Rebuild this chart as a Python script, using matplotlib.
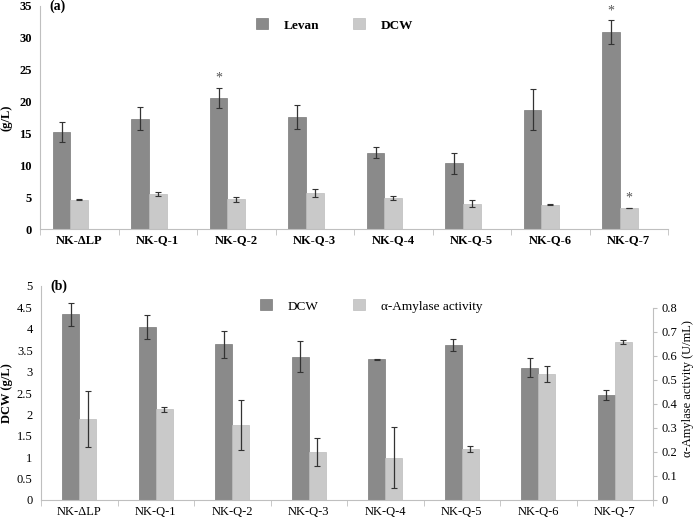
import matplotlib.pyplot as plt
import numpy as np
from matplotlib.ticker import FuncFormatter

plt.rcParams['font.family'] = ['Liberation Serif', 'DejaVu Serif']

# Strains (category labels)
strains = ['NK-\u0394LP', 'NK-Q-1', 'NK-Q-2', 'NK-Q-3',
           'NK-Q-4', 'NK-Q-5', 'NK-Q-6', 'NK-Q-7']

# Panel (a): levan and DCW (g/L)
levan = [15.2, 17.3, 20.6, 17.6, 12.0, 10.3, 18.7, 30.9]
levan_err = [1.6, 1.8, 1.6, 1.9, 0.9, 1.7, 3.2, 1.9]
dcw_a = [4.6, 5.55, 4.65, 5.7, 4.9, 4.0, 3.8, 3.3]
dcw_a_err = [0.1, 0.3, 0.4, 0.65, 0.35, 0.6, 0.1, 0.05]
levan_star = [2, 7]
dcw_a_star = [7]

# Panel (b): DCW (g/L) and alpha-amylase activity (U/mL)
dcw_b = [4.34, 4.04, 3.64, 3.35, 3.29, 3.62, 3.09, 2.45]
dcw_b_err = [0.27, 0.28, 0.32, 0.37, 0.01, 0.15, 0.22, 0.12]
amylase = [0.337, 0.378, 0.313, 0.199, 0.177, 0.211, 0.525, 0.658]
amylase_err = [0.118, 0.01, 0.104, 0.058, 0.128, 0.012, 0.035, 0.007]

dark = '#8a8a8a'
light = '#c9c9c9'
spine_c = '#bfbfbf'
err_kw = dict(ecolor='#333333', elinewidth=0.9, capsize=2, capthick=0.8)

fig = plt.figure(figsize=(6.97, 5.2), dpi=100)
W, H = 697, 520

x = np.arange(len(strains))
w = 0.224


def style_axes(ax, bold):
    ax.spines['top'].set_visible(False)
    ax.spines['right'].set_visible(False)
    ax.spines['left'].set_color(spine_c)
    ax.spines['bottom'].set_color(spine_c)
    ax.tick_params(axis='y', length=0, labelsize=9, pad=6)
    ax.tick_params(axis='x', length=0, labelsize=9, pad=4)
    ax.set_xticks(x)
    ax.set_xticklabels(strains, fontweight='bold' if bold else 'normal')
    ax.set_xticks(np.arange(-0.5, len(strains) - 0.4, 1), minor=True)
    ax.tick_params(axis='x', which='minor', length=4, color=spine_c)
    for lab in ax.get_yticklabels():
        lab.set_fontweight('bold' if bold else 'normal')


# ---- panel (a)
ax1 = fig.add_axes([40 / W, (H - 229) / H, 628 / W, 223 / H])
b_lev = ax1.bar(x - w, levan, w, yerr=levan_err, color=dark, edgecolor='#7a7a7a',
                linewidth=0.5, error_kw=err_kw)
b_dcw = ax1.bar(x, dcw_a, w, yerr=dcw_a_err, color=light, edgecolor='#bdbdbd',
                linewidth=0.5, error_kw=err_kw)
ax1.set_xlim(-0.5, 7.5)
ax1.set_ylim(0, 35)
ax1.set_yticks(np.arange(0, 36, 5))
style_axes(ax1, True)
ax1.set_ylabel('(g/L)', fontsize=9, fontweight='bold')
ax1.yaxis.set_label_coords(-0.044, 0.5)
ax1.text(0.015, 1.0, '(a)', transform=ax1.transAxes, fontsize=10,
         fontweight='bold', va='center', ha='left')
for i in levan_star:
    ax1.annotate('*', (x[i] - w, levan[i] + levan_err[i]), xytext=(0, 2),
                 textcoords='offset points', ha='center', va='bottom',
                 fontsize=10, color='#555555')
for i in dcw_a_star:
    ax1.annotate('*', (x[i], dcw_a[i] + dcw_a_err[i]), xytext=(0, 2),
                 textcoords='offset points', ha='center', va='bottom',
                 fontsize=10, color='#555555')

leg_kw = dict(frameon=False, handlelength=0.9, handleheight=0.9,
              handletextpad=1.2, borderpad=0, borderaxespad=0,
              prop={'size': 9.5, 'weight': 'bold'})
fig.legend([b_lev], ['Levan'], loc='center left',
           bbox_to_anchor=(256 / W, (H - 25) / H), **leg_kw)
fig.legend([b_dcw], ['DCW'], loc='center left',
           bbox_to_anchor=(353 / W, (H - 25) / H), **leg_kw)

# ---- panel (b)
ax2 = fig.add_axes([41 / W, 20 / H, 612 / W, 214 / H])
b_d2 = ax2.bar(x - w / 2, dcw_b, w, yerr=dcw_b_err, color=dark, edgecolor='#7a7a7a',
               linewidth=0.5, error_kw=err_kw, zorder=2)
ax2.set_xlim(-0.5, 7.385)
ax2.set_ylim(0, 5)
ax2.set_yticks(np.arange(0, 5.01, 0.5))
fmt = FuncFormatter(lambda v, p: ('%g' % round(v, 2)))
ax2.yaxis.set_major_formatter(fmt)
style_axes(ax2, False)
ax2.set_ylabel('DCW (g/L)', fontsize=9, fontweight='bold')
ax2.yaxis.set_label_coords(-0.046, 0.5)
ax2.text(0.015, 1.0, '(b)', transform=ax2.transAxes, fontsize=10,
         fontweight='bold', va='center', ha='left')

ax3 = ax2.twinx()
b_am = ax3.bar(x + w / 2, amylase, w, yerr=amylase_err, color=light, edgecolor='#bdbdbd',
               linewidth=0.5, error_kw=err_kw)
top_r = 0.8 * 214 / 192
ax3.set_ylim(0, top_r)
ax3.set_yticks(np.arange(0, 0.81, 0.1))
ax3.yaxis.set_major_formatter(fmt)
for s in ['top', 'left', 'bottom']:
    ax3.spines[s].set_visible(False)
ax3.spines['right'].set_color(spine_c)
ax3.spines['right'].set_bounds(0, 0.8)
ax3.tick_params(axis='y', length=3, color=spine_c, labelsize=9, pad=3)
ax3.set_ylabel('\u03b1-Amylase activity (U/mL)', fontsize=9)
ax3.yaxis.set_label_coords(1.047, 0.52)

leg_kw2 = dict(leg_kw, prop={'size': 9.5})
fig.legend([b_d2], ['DCW'], loc='center left',
           bbox_to_anchor=(260 / W, (H - 306) / H), **leg_kw2)
fig.legend([b_am], ['\u03b1-Amylase activity'], loc='center left',
           bbox_to_anchor=(353 / W, (H - 306) / H), **leg_kw2)

fig.savefig('out.png', dpi=100)
